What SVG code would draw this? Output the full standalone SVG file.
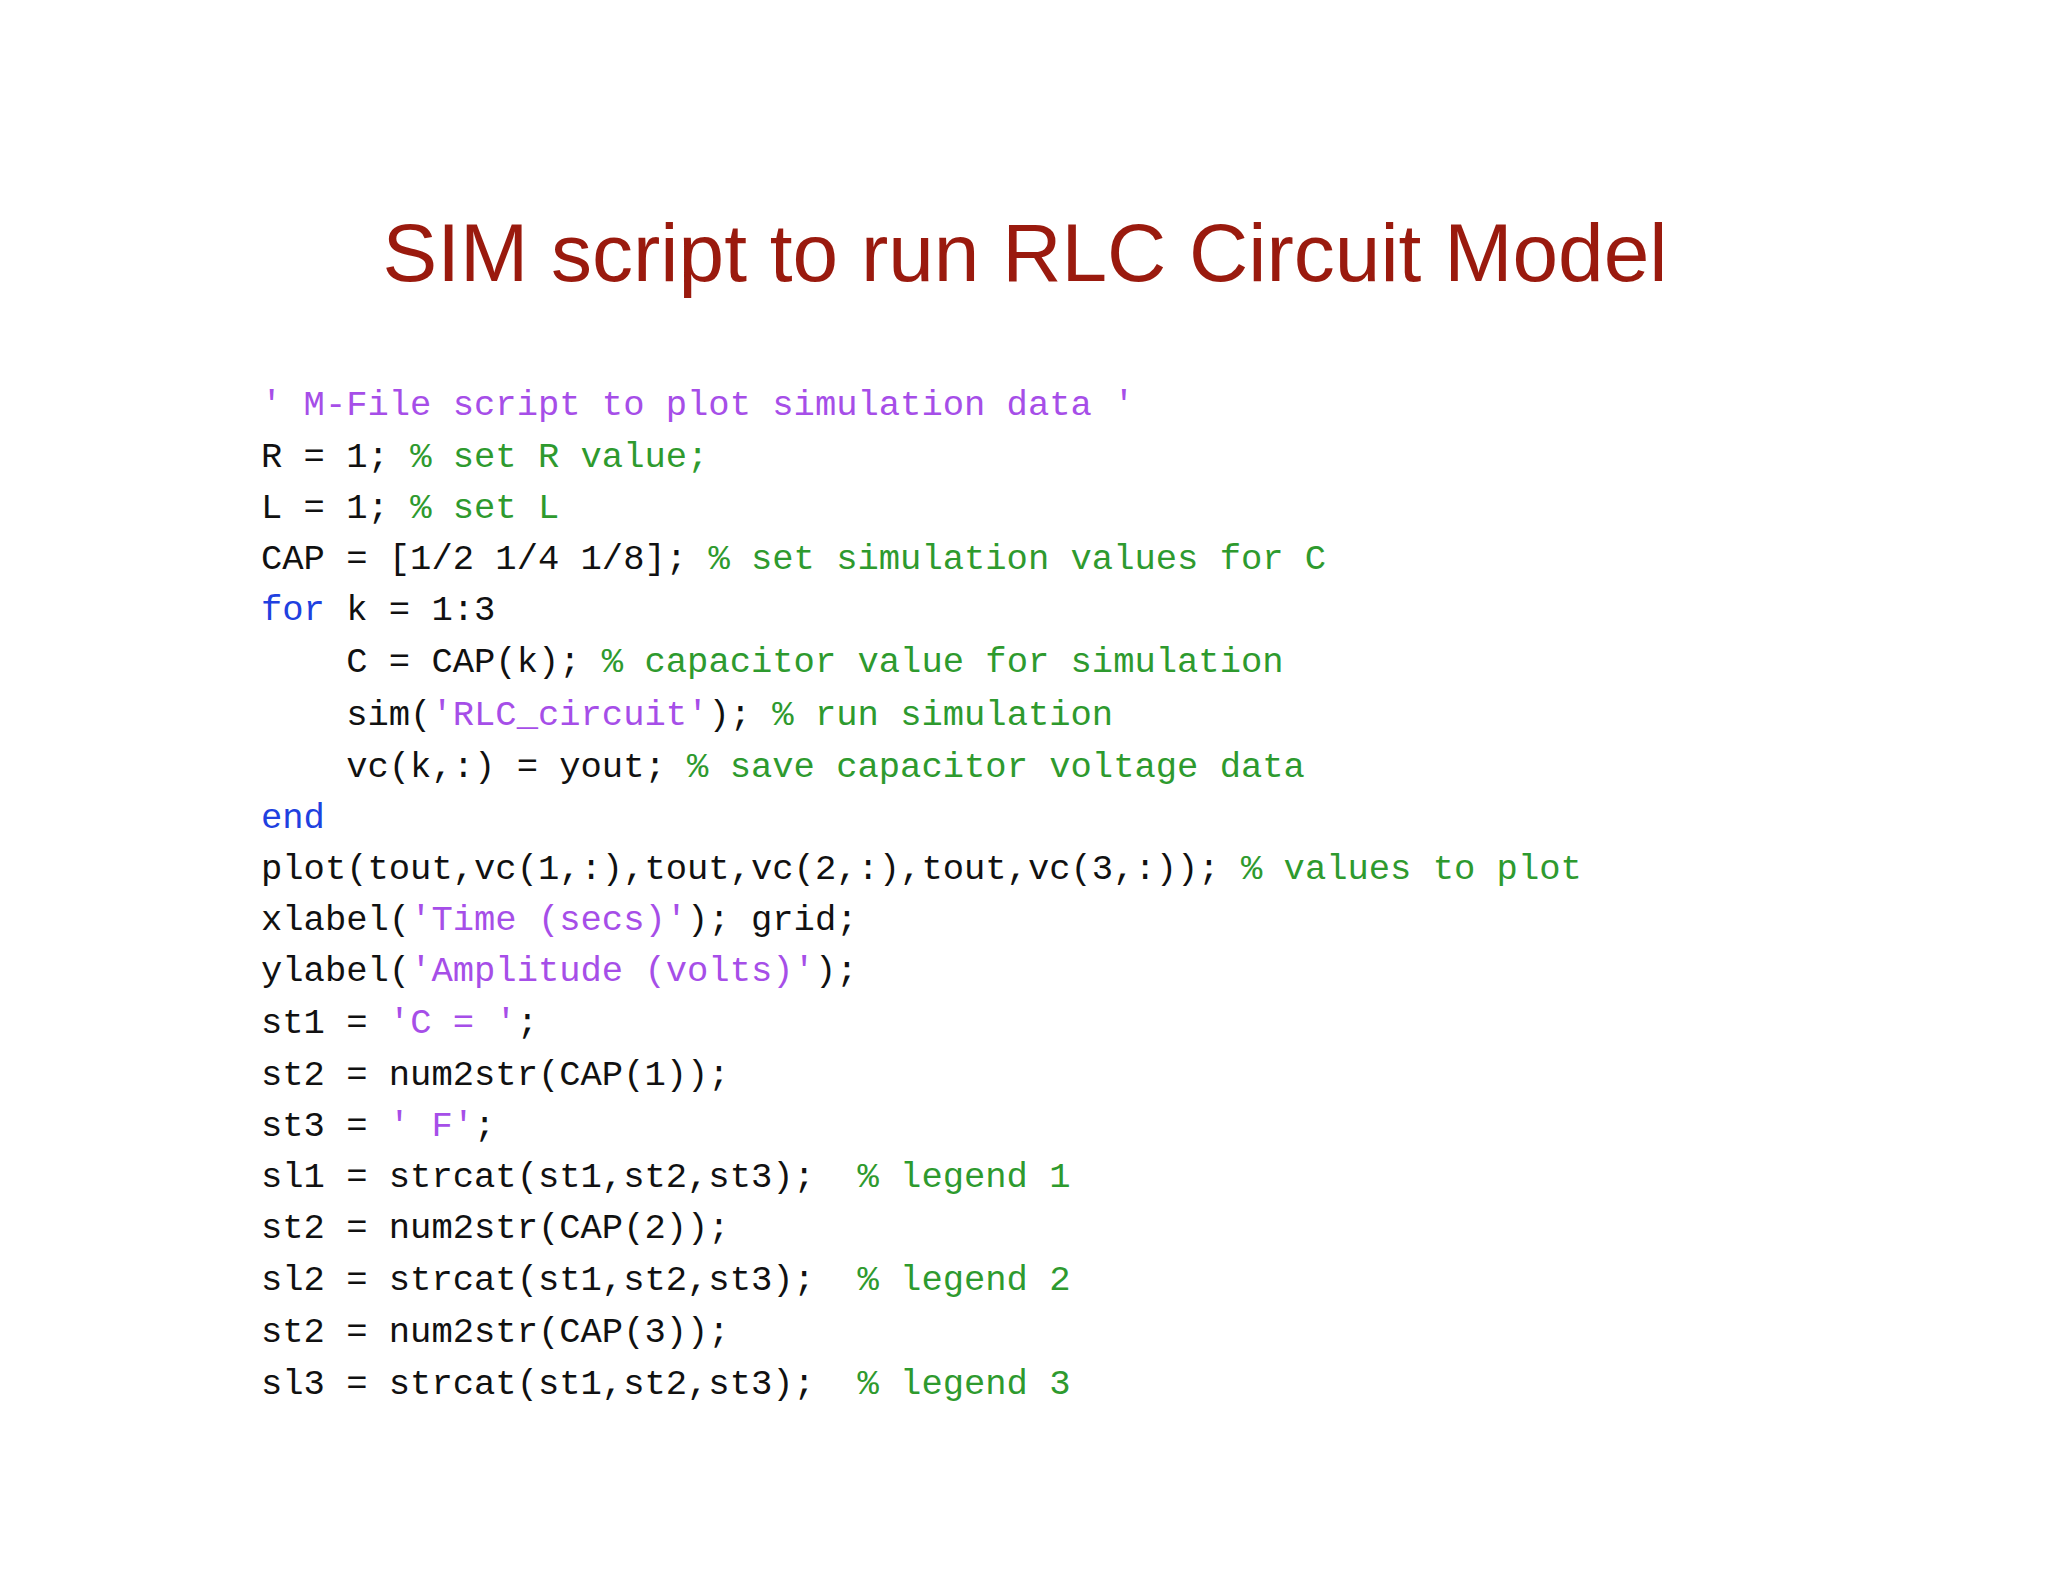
<svg xmlns="http://www.w3.org/2000/svg" width="2048" height="1582" viewBox="0 0 2048 1582">
<style>
.t{font-family:"Liberation Sans",Arial,sans-serif;font-size:82px;fill:#9a1a0e}
.c{font-family:"Liberation Mono","Courier New",monospace;font-size:35.5px;fill:#111;white-space:pre}
.s{fill:#a64ee8}.g{fill:#2e9a2e}.k{fill:#2040e0}
</style>
<rect width="2048" height="1582" fill="#fff"/>
<g id="title"><text class="t" x="1025" y="281" text-anchor="middle">SIM script to run RLC Circuit Model</text></g>
<g id="code" class="c" xml:space="preserve">
<text x="261" y="415" class="c"><tspan class="s">' M-File script to plot simulation data '</tspan></text>
<text x="261" y="467" class="c">R = 1; <tspan class="g">% set R value;</tspan></text>
<text x="261" y="518" class="c">L = 1; <tspan class="g">% set L</tspan></text>
<text x="261" y="569" class="c">CAP = [1/2 1/4 1/8]; <tspan class="g">% set simulation values for C</tspan></text>
<text x="261" y="620" class="c"><tspan class="k">for</tspan> k = 1:3</text>
<text x="261" y="672" class="c">    C = CAP(k); <tspan class="g">% capacitor value for simulation</tspan></text>
<text x="261" y="725" class="c">    sim(<tspan class="s">'RLC_circuit'</tspan>); <tspan class="g">% run simulation</tspan></text>
<text x="261" y="777" class="c">    vc(k,:) = yout; <tspan class="g">% save capacitor voltage data</tspan></text>
<text x="261" y="828" class="c"><tspan class="k">end</tspan></text>
<text x="261" y="879" class="c">plot(tout,vc(1,:),tout,vc(2,:),tout,vc(3,:)); <tspan class="g">% values to plot</tspan></text>
<text x="261" y="930" class="c">xlabel(<tspan class="s">'Time (secs)'</tspan>); grid;</text>
<text x="261" y="981" class="c">ylabel(<tspan class="s">'Amplitude (volts)'</tspan>);</text>
<text x="261" y="1033" class="c">st1 = <tspan class="s">'C = '</tspan>;</text>
<text x="261" y="1085" class="c">st2 = num2str(CAP(1));</text>
<text x="261" y="1136" class="c">st3 = <tspan class="s">' F'</tspan>;</text>
<text x="261" y="1187" class="c">sl1 = strcat(st1,st2,st3);  <tspan class="g">% legend 1</tspan></text>
<text x="261" y="1238" class="c">st2 = num2str(CAP(2));</text>
<text x="261" y="1290" class="c">sl2 = strcat(st1,st2,st3);  <tspan class="g">% legend 2</tspan></text>
<text x="261" y="1342" class="c">st2 = num2str(CAP(3));</text>
<text x="261" y="1394" class="c">sl3 = strcat(st1,st2,st3);  <tspan class="g">% legend 3</tspan></text>
</g>
</svg>
